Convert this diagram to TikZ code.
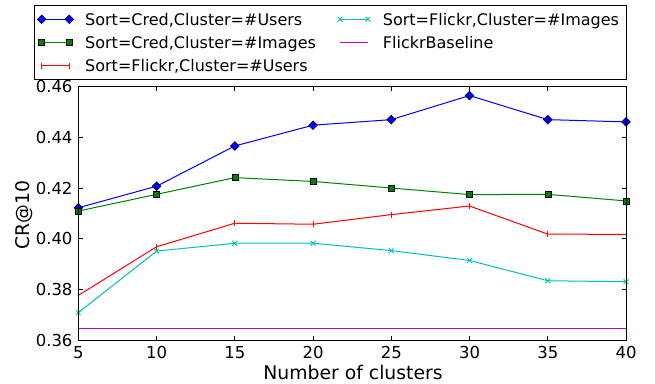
\documentclass[tikz,border=0pt]{standalone}
\usepackage{fontspec}
\setmainfont{DejaVu Sans}
\usetikzlibrary{plotmarks}
\definecolor{mblue}{rgb}{0,0,1}
\definecolor{mgreen}{rgb}{0,0.5,0}
\definecolor{mred}{rgb}{1,0,0}
\definecolor{mcyan}{rgb}{0,0.75,0.75}
\definecolor{mmag}{rgb}{0.75,0,0.75}
\tikzset{
  txt/.style={font=\fontsize{16bp}{19bp}\selectfont, inner sep=0pt},
  axlab/.style={font=\fontsize{18.8bp}{22bp}\selectfont, inner sep=0pt},
  tick/.style={font=\fontsize{16.5bp}{19bp}\selectfont, inner sep=0pt, text height=12bp, text depth=0pt},
  frame/.style={draw=black, line width=0.9bp},
  sblue/.style={draw=mblue, line width=1bp, mark=square*, mark size=3.1bp,
    mark options={rotate=45, fill=mblue, draw=black, line width=0.5bp}},
  sgreen/.style={draw=mgreen, line width=1bp, mark=square*, mark size=3bp,
    mark options={fill=mgreen, draw=black, line width=0.5bp}},
  sred/.style={draw=mred, line width=1bp, mark=|, mark size=3bp,
    mark options={draw=mred, line width=0.8bp}},
  scyan/.style={draw=mcyan, line width=1bp, mark=x, mark size=3.5bp,
    mark options={draw=mcyan, line width=0.8bp}},
  smag/.style={draw=mmag, line width=1bp},
}
\begin{document}
\begin{tikzpicture}[x=1bp,y=1bp]
\useasboundingbox (0,0) rectangle (655,383);
\fill[white] (0,0) rectangle (655,383);

\begin{scope}[x=15.649bp, y=25.33bp, shift={(0.055bp,-868.88bp)}]
  % data
  \draw[sblue] plot coordinates {(5,41.22) (10,42.07) (15,43.66) (20,44.48) (25,44.70) (30,45.65) (35,44.70) (40,44.61)};
  \draw[sgreen] plot coordinates {(5,41.09) (10,41.75) (15,42.41) (20,42.26) (25,42.00) (30,41.74) (35,41.75) (40,41.49)};
  \draw[sred] plot coordinates {(5,37.76) (10,39.68) (15,40.61) (20,40.57) (25,40.95) (30,41.29) (35,40.18) (40,40.17)};
  \draw[scyan] plot coordinates {(5,37.08) (10,39.51) (15,39.82) (20,39.82) (25,39.53) (30,39.14) (35,38.34) (40,38.30)};
  \draw[smag] (5,36.45) -- (40,36.45);

  % frame and ticks
  \draw[frame] (5,36) rectangle (40,46);
  \foreach \c in {10,15,...,35} {
    \draw[black, line width=0.7bp] (\c,36) -- ++(0,4.5bp);
    \draw[black, line width=0.7bp] (\c,46) -- ++(0,-4.5bp);
  }
  \foreach \v in {38,40,42,44} {
    \draw[black, line width=0.7bp] (5,\v) -- ++(4.5bp,0);
    \draw[black, line width=0.7bp] (40,\v) -- ++(-4.5bp,0);
  }
  \foreach \c in {5,10,...,40} {
    \node[tick, anchor=north] (xt\c) at ([yshift=-6.5bp]\c,36) {\c};
  }
  \foreach \v/\t in {36/0.36,38/0.38,40/0.40,42/0.42,44/0.44,46/0.46} {
    \node[tick, anchor=east] (yt\v) at ([xshift=-5.6bp]5,\v) {\t};
  }
\end{scope}

% axis labels
\node[axlab, anchor=base] (xl) at (353,3.7) {Number of clusters};
\node[axlab, anchor=base, rotate=90] (yl) at (29.3,168) {CR@10};

% legend
\draw[frame] (34,304) rectangle (626,377.7);
\node[txt, anchor=base west] (l1) at (85,358) {Sort=Cred,Cluster=\#Users};
\node[txt, anchor=base west] (l2) at (85,335) {Sort=Cred,Cluster=\#Images};
\node[txt, anchor=base west] (l3) at (85,312) {Sort=Flickr,Cluster=\#Users};
\node[txt, anchor=base west] (l4) at (382.7,358) {Sort=Flickr,Cluster=\#Images};
\node[txt, anchor=base west] (l5) at (382.7,335) {FlickrBaseline};
\draw[sblue] plot coordinates {(41.7,363.7) (69.3,363.7)};
\draw[sgreen] plot coordinates {(41.7,340.7) (69.3,340.7)};
\draw[sred] plot coordinates {(41.7,317.5) (69.3,317.5)};
\draw[scyan] plot coordinates {(340,363.7) (368,363.7)};
\draw[smag] (340,340.7) -- (368,340.7);
\end{tikzpicture}
\end{document}
